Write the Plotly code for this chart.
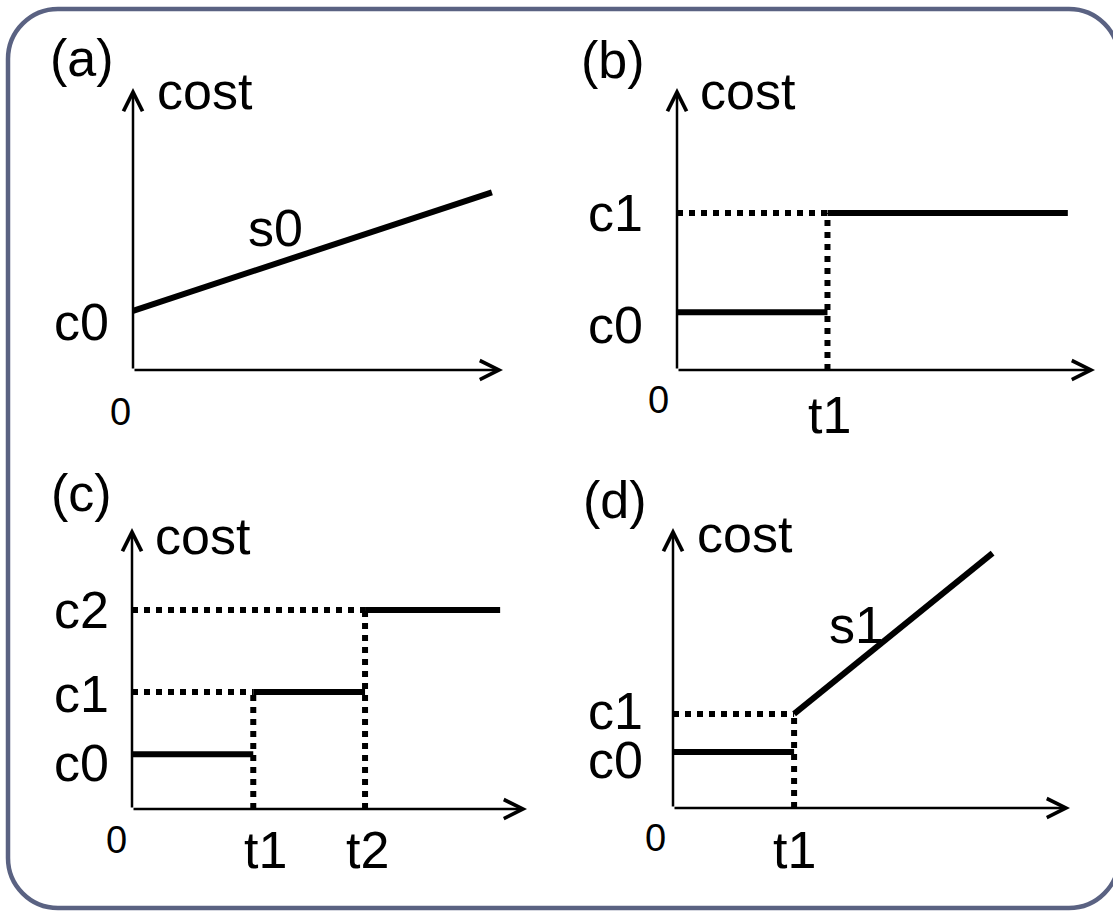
import plotly.graph_objects as go

W, H = 1113, 912

# ---------------- data (axis length = 10 units on each axis) ----------------
# (a) linear cost s0
a_c0 = 2.1
a_end = [9.7, 6.3]            # [t, cost] at the end of s0

# (b) one step
b_costs = [2.05, 5.57]        # c0, c1
b_times = [3.6]               # t1
b_tend = 9.35

# (c) two steps
c_costs = [1.95, 4.16, 7.08]  # c0, c1, c2
c_times = [3.07, 5.9]         # t1, t2
c_tend = 9.32

# (d) step then linear s1
d_costs = [2.0, 3.36]         # c0, c1
d_times = [3.05]              # t1
d_s1_end = [8.05, 9.1]        # [t, cost] at the end of s1

panel_names = ["(a)", "(b)", "(c)", "(d)"]
cost_levels = ["c0", "c1", "c2"]
time_marks = ["t1", "t2"]

# ---------------- layout geometry (pixels) ----------------
# origin, arrow tip (x-tip, y-tip), quadrant (x0, y0, x1, y1)
panels = [
    ((133, 370), (503, 88), (0, 0, 556, 456)),
    ((677, 370), (1095, 88), (556, 0, 1113, 456)),
    ((132, 809), (527, 528), (0, 456, 556, 912)),
    ((673, 808), (1070, 528), (556, 456, 1113, 912)),
]

FONT = "Arial, Liberation Sans, sans-serif"
BIG = 52
SMALL = 38
LW = 6
DOT = "6px,6px"

fig = go.Figure()
layout_axes = {}
for i, (orig, tip, quad) in enumerate(panels):
    ox, oy = orig
    tx, ty = tip
    qx0, qy0, qx1, qy1 = quad
    sx = (tx - ox) / 10.0
    sy = (oy - ty) / 10.0
    xr = [(qx0 - ox) / sx, (qx1 - ox) / sx]
    yr = [(oy - qy1) / sy, (oy - qy0) / sy]
    sfx = "" if i == 0 else str(i + 1)
    layout_axes["xaxis" + sfx] = dict(domain=[qx0 / W, qx1 / W], range=xr,
                                      visible=False, fixedrange=True,
                                      anchor="y" + sfx)
    layout_axes["yaxis" + sfx] = dict(domain=[1 - qy1 / H, 1 - qy0 / H], range=yr,
                                      visible=False, fixedrange=True,
                                      anchor="x" + sfx)

def ax_ids(i):
    s = "" if i == 0 else str(i + 1)
    return "x" + s, "y" + s

def seg(i, xs, ys, dotted=False):
    xa, ya = ax_ids(i)
    fig.add_trace(go.Scatter(
        x=xs, y=ys, mode="lines", xaxis=xa, yaxis=ya,
        line=dict(color="black", width=LW, dash=DOT if dotted else "solid"),
        hoverinfo="skip", showlegend=False, cliponaxis=False))

annotations = []

def label(i, x, y, text, size=BIG):
    xa, ya = ax_ids(i)
    annotations.append(dict(x=x, y=y, xref=xa, yref=ya, text=text,
                            showarrow=False, xanchor="center", yanchor="middle",
                            font=dict(family=FONT, size=size, color="black")))

def axes_arrows(i):
    xa, ya = ax_ids(i)
    for (hx, hy) in [(10, 0), (0, 10)]:
        annotations.append(dict(x=hx, y=hy, ax=0, ay=0, xref=xa, yref=ya,
                                axref=xa, ayref=ya, text="", showarrow=True,
                                arrowhead=5, arrowsize=1.5, arrowwidth=2.5,
                                arrowcolor="black", standoff=0, startstandoff=0))

# ---- (a)
seg(0, [0, a_end[0]], [a_c0, a_end[1]])
axes_arrows(0)
label(0, -1.38, 11.05, panel_names[0])
label(0, 1.95, 9.9, "cost")
label(0, 3.84, 5.04, "s0")
label(0, -1.38, a_c0 - 0.4, cost_levels[0])
label(0, -0.35, -1.49, "0", SMALL)

# ---- (b)
t1 = b_times[0]
seg(1, [0, t1], [b_costs[1], b_costs[1]], dotted=True)
seg(1, [t1, t1], [0, b_costs[1]], dotted=True)
seg(1, [0, t1], [b_costs[0], b_costs[0]])
seg(1, [t1, b_tend], [b_costs[1], b_costs[1]])
axes_arrows(1)
label(1, -1.53, 11.0, panel_names[1])
label(1, 1.70, 9.9, "cost")
label(1, -1.48, b_costs[1], cost_levels[1])
label(1, -1.48, b_costs[0] - 0.45, cost_levels[0])
label(1, -0.45, -1.06, "0", SMALL)
label(1, t1 + 0.05, -1.6, time_marks[0])

# ---- (c)
ct1, ct2 = c_times
seg(2, [0, ct1], [c_costs[1], c_costs[1]], dotted=True)
seg(2, [0, ct2], [c_costs[2], c_costs[2]], dotted=True)
seg(2, [ct1, ct1], [0, c_costs[1]], dotted=True)
seg(2, [ct2, ct2], [0, c_costs[2]], dotted=True)
seg(2, [0, ct1], [c_costs[0], c_costs[0]])
seg(2, [ct1, ct2], [c_costs[1], c_costs[1]])
seg(2, [ct2, c_tend], [c_costs[2], c_costs[2]])
axes_arrows(2)
label(2, -1.29, 11.25, panel_names[2])
label(2, 1.8, 9.7, "cost")
label(2, -1.27, c_costs[2], cost_levels[2])
label(2, -1.27, c_costs[1] - 0.05, cost_levels[1])
label(2, -1.27, c_costs[0] - 0.3, cost_levels[0])
label(2, -0.38, -1.1, "0", SMALL)
label(2, ct1 + 0.3, -1.46, time_marks[0])
label(2, ct2 + 0.07, -1.46, time_marks[1])

# ---- (d)
dt1 = d_times[0]
seg(3, [0, dt1], [d_costs[1], d_costs[1]], dotted=True)
seg(3, [dt1, dt1], [0, d_costs[1]], dotted=True)
seg(3, [0, dt1], [d_costs[0], d_costs[0]])
seg(3, [dt1, d_s1_end[0]], [d_costs[1], d_s1_end[1]])
axes_arrows(3)
label(3, -1.46, 11.0, panel_names[3])
label(3, 1.81, 9.8, "cost")
label(3, 4.63, 6.54, "s1")
label(3, -1.46, d_costs[1] + 0.1, cost_levels[1])
label(3, -1.46, d_costs[0] - 0.3, cost_levels[0])
label(3, -0.43, -1.07, "0", SMALL)
label(3, dt1, -1.5, time_marks[0])

# ---------------- rounded frame ----------------
def P(x, y):
    return f"{x / W:.6f},{1 - y / H:.6f}"

L, T, R, B, r = 8, 9, 1119, 908, 50
k = 0.5523 * r
path = (f"M {P(L, T + r)} "
        f"C {P(L, T + r - k)} {P(L + r - k, T)} {P(L + r, T)} "
        f"L {P(R - r, T)} "
        f"C {P(R - r + k, T)} {P(R, T + r - k)} {P(R, T + r)} "
        f"L {P(R, B - r)} "
        f"C {P(R, B - r + k)} {P(R - r + k, B)} {P(R - r, B)} "
        f"L {P(L + r, B)} "
        f"C {P(L + r - k, B)} {P(L, B - r + k)} {P(L, B - r)} Z")

fig.update_layout(
    width=W, height=H,
    margin=dict(l=0, r=0, t=0, b=0),
    paper_bgcolor="white", plot_bgcolor="rgba(0,0,0,0)",
    showlegend=False, hovermode=False,
    annotations=annotations,
    shapes=[dict(type="path", xref="paper", yref="paper", path=path,
                 line=dict(color="#5a6282", width=4.5), layer="below")],
    **layout_axes,
)

fig.write_html("out.html", config={"displayModeBar": False},
               post_script="document.body.style.margin='0px';"
                           "document.body.style.overflow='hidden';")
